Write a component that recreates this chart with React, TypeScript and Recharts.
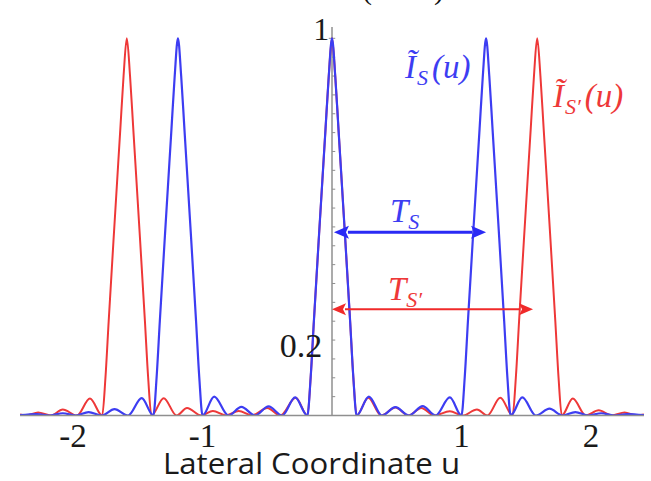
import { LineChart, Line, XAxis, YAxis, ReferenceLine, ReferenceDot } from "recharts";

// lateral coordinate u and normalised intensity
const blueU = [
  -2.41, -2.28, -2.18, -2.08, -1.98, -1.88, -1.78, -1.68, -1.575, -1.47,
  -1.38, -1.355, -1.33, -1.29, -1.24, -1.215, -1.19, -1.165, -1.14, -1.09, -1.05, -1.025, -1.0,
  -0.91, -0.8, -0.7, -0.595, -0.49, -0.385, -0.285,
  -0.19, -0.165, -0.14, -0.1, -0.05, -0.025, 0, 0.025, 0.05, 0.1, 0.14, 0.165, 0.19,
  0.285, 0.385, 0.49, 0.595, 0.7, 0.8, 0.91,
  1.0, 1.025, 1.05, 1.09, 1.14, 1.165, 1.19, 1.215, 1.24, 1.29, 1.33, 1.355, 1.38,
  1.47, 1.575, 1.68, 1.78, 1.88, 1.98, 2.08, 2.18, 2.28, 2.41,
];
const blueI = [
  0.001, 0.004, 0, 0.006, 0, 0.009, 0, 0.017, 0, 0.046,
  0, 0.1, 0.25, 0.48, 0.76, 0.9, 1, 0.9, 0.76, 0.48, 0.25, 0.1, 0,
  0.05, 0, 0.023, 0, 0.024, 0, 0.048,
  0, 0.1, 0.25, 0.48, 0.76, 0.9, 1, 0.9, 0.76, 0.48, 0.25, 0.1, 0,
  0.05, 0, 0.022, 0, 0.025, 0, 0.048,
  0, 0.1, 0.25, 0.48, 0.76, 0.9, 1, 0.9, 0.76, 0.48, 0.25, 0.1, 0,
  0.048, 0, 0.018, 0, 0.009, 0, 0.006, 0, 0.004, 0.001,
];

const redU = [
  -2.41, -2.36, -2.27, -2.17, -2.08, -1.97, -1.87,
  -1.775, -1.75, -1.725, -1.685, -1.635, -1.61, -1.585, -1.56, -1.535, -1.485, -1.445, -1.42, -1.395,
  -1.3, -1.2, -1.12, -1.01, -0.92, -0.82, -0.72, -0.62, -0.5, -0.4, -0.28,
  -0.19, -0.165, -0.14, -0.1, -0.05, -0.025, 0, 0.025, 0.05, 0.1, 0.14, 0.165, 0.19,
  0.28, 0.38, 0.49, 0.59, 0.69, 0.79, 0.91, 1.01, 1.12, 1.2, 1.3,
  1.395, 1.42, 1.445, 1.485, 1.535, 1.56, 1.585, 1.61, 1.635, 1.685, 1.725, 1.75, 1.775,
  1.86, 1.96, 2.06, 2.16, 2.26, 2.35, 2.41,
];
const redI = [
  0.003, 0, 0.008, 0, 0.016, 0, 0.045,
  0, 0.1, 0.25, 0.48, 0.76, 0.9, 1, 0.9, 0.76, 0.48, 0.25, 0.1, 0,
  0.046, 0, 0.02, 0, 0.012, 0, 0.012, 0, 0.02, 0, 0.047,
  0, 0.1, 0.25, 0.48, 0.76, 0.9, 1, 0.9, 0.76, 0.48, 0.25, 0.1, 0,
  0.047, 0, 0.021, 0, 0.02, 0, 0.011, 0, 0.016, 0, 0.047,
  0, 0.1, 0.25, 0.48, 0.76, 0.9, 1, 0.9, 0.76, 0.48, 0.25, 0.1, 0,
  0.045, 0, 0.014, 0, 0.008, 0, 0.003,
];

const xTicks = [-2, -1, 1, 2];
const yMinorTicks = [
  0.05, 0.1, 0.15, 0.2, 0.25, 0.3, 0.35, 0.4, 0.45, 0.5,
  0.55, 0.6, 0.65, 0.7, 0.75, 0.8, 0.85, 0.9, 0.95,
];

const periodS = 1.19;
const periodS2 = 1.553;

const blueData = blueU.map((u, k) => ({ u, i: blueI[k] }));
const redData = redU.map((u, k) => ({ u, i: redI[k] }));

const BLUE = "#3d3df2";
const RED = "#ee3838";
const AXIS = "#8f8f8f";
const SERIF = "'Liberation Serif', 'Times New Roman', serif";

function arrowShape(color: string, w: number, len: number, half: number) {
  return (p: any) => {
    const { x1, y1, x2 } = p;
    const a = Math.min(x1, x2);
    const b = Math.max(x1, x2);
    return (
      <g>
        <line x1={a + len - 1} y1={y1} x2={b - len + 1} y2={y1} stroke={color} strokeWidth={w} />
        <polygon points={`${a},${y1} ${a + len},${y1 - half} ${a + len - 3},${y1} ${a + len},${y1 + half}`} fill={color} />
        <polygon points={`${b},${y1} ${b - len},${y1 - half} ${b - len + 3},${y1} ${b - len},${y1 + half}`} fill={color} />
      </g>
    );
  };
}

function textShape(node: any, color: string, anchor: string = "start", italic = true, size = 33) {
  return (p: any) => (
    <text
      x={p.cx}
      y={p.cy}
      fill={color}
      fontFamily={SERIF}
      fontStyle={italic ? "italic" : "normal"}
      fontSize={size}
      textAnchor={anchor}
    >
      {node}
    </text>
  );
}

const curveLabel = (prime: boolean) => (
  <>
    <tspan>Ĩ</tspan>
    <tspan fontSize={22} dy={7} dx={1}>
      {prime ? "S′" : "S"}
    </tspan>
    <tspan dy={-7} dx={4}>(u)</tspan>
  </>
);

const periodLabel = (prime: boolean) => (
  <>
    <tspan>T</tspan>
    <tspan fontSize={22} dy={7}>
      {prime ? "S′" : "S"}
    </tspan>
  </>
);

const XTick = (p: any) => (
  <text x={p.x} y={p.y} dy={21} textAnchor="middle" fill="#1a1a1a" fontFamily={SERIF} fontSize={33}>
    {p.payload.value}
  </text>
);

export default function App() {
  return (
    <div style={{ position: "absolute", left: 0, top: 0, background: "#fff" }}>
      <LineChart width={651} height={481} margin={{ top: 27, right: 7, bottom: 0, left: 20 }}>
        <XAxis
          type="number"
          dataKey="u"
          domain={[-2.41, 2.41]}
          allowDataOverflow
          ticks={xTicks}
          tickLine={false}
          tickSize={0}
          tickMargin={10}
          height={65.5}
          axisLine={{ stroke: AXIS, strokeWidth: 1.5 }}
          tick={XTick}
          label={{
            content: (p: any) => (
              <text
                x={311.5}
                y={p.viewBox.y + 58}
                textAnchor="middle"
                fontFamily="'Open Sans', sans-serif"
                fontSize={30}
                fill="#1a1a1a"
                textLength={297}
                lengthAdjust="spacingAndGlyphs"
              >
                Lateral Coordinate u
              </text>
            ),
          }}
        />
        <YAxis hide type="number" domain={[0, 1.03]} allowDataOverflow />

        <ReferenceLine x={0} stroke={AXIS} strokeWidth={1.5} />
        {yMinorTicks.map((t) => (
          <ReferenceLine key={t} segment={[{ x: 0, y: t }, { x: 0.025, y: t }]} stroke={AXIS} strokeWidth={1} />
        ))}
        <ReferenceLine segment={[{ x: -0.025, y: 1 }, { x: 0.025, y: 1 }]} stroke={AXIS} strokeWidth={1} />

        <Line data={redData} dataKey="i" type="monotone" dot={false} stroke={RED} strokeWidth={2} isAnimationActive={false} />
        <Line data={blueData} dataKey="i" type="monotone" dot={false} stroke={BLUE} strokeWidth={2.2} isAnimationActive={false} />

        <ReferenceLine
          segment={[{ x: 0.015, y: 0.486 }, { x: periodS, y: 0.486 }]}
          shape={arrowShape("#2a2af5", 3, 15, 6.5)}
        />
        <ReferenceLine
          segment={[{ x: 0, y: 0.282 }, { x: periodS2, y: 0.282 }]}
          shape={arrowShape("#f02a2a", 2, 14, 6)}
        />

        <ReferenceDot x={-0.022} y={0.995} shape={textShape("1", "#1a1a1a", "end", false, 32)} />
        <ReferenceDot x={-0.075} y={0.155} shape={textShape("0.2", "#1a1a1a", "end", false, 34)} />
        <ReferenceDot x={0.564} y={0.894} shape={textShape(curveLabel(false), BLUE)} />
        <ReferenceDot x={1.707} y={0.817} shape={textShape(curveLabel(true), RED)} />
        <ReferenceDot x={0.448} y={0.513} shape={textShape(periodLabel(false), BLUE)} />
        <ReferenceDot x={0.432} y={0.306} shape={textShape(periodLabel(true), RED)} />
        <ReferenceDot x={0.232} y={1.105} ifOverflow="visible" shape={textShape("(", "#111", "start", false, 30)} />
        <ReferenceDot x={0.788} y={1.105} ifOverflow="visible" shape={textShape(")", "#111", "start", false, 30)} />
      </LineChart>
    </div>
  );
}
